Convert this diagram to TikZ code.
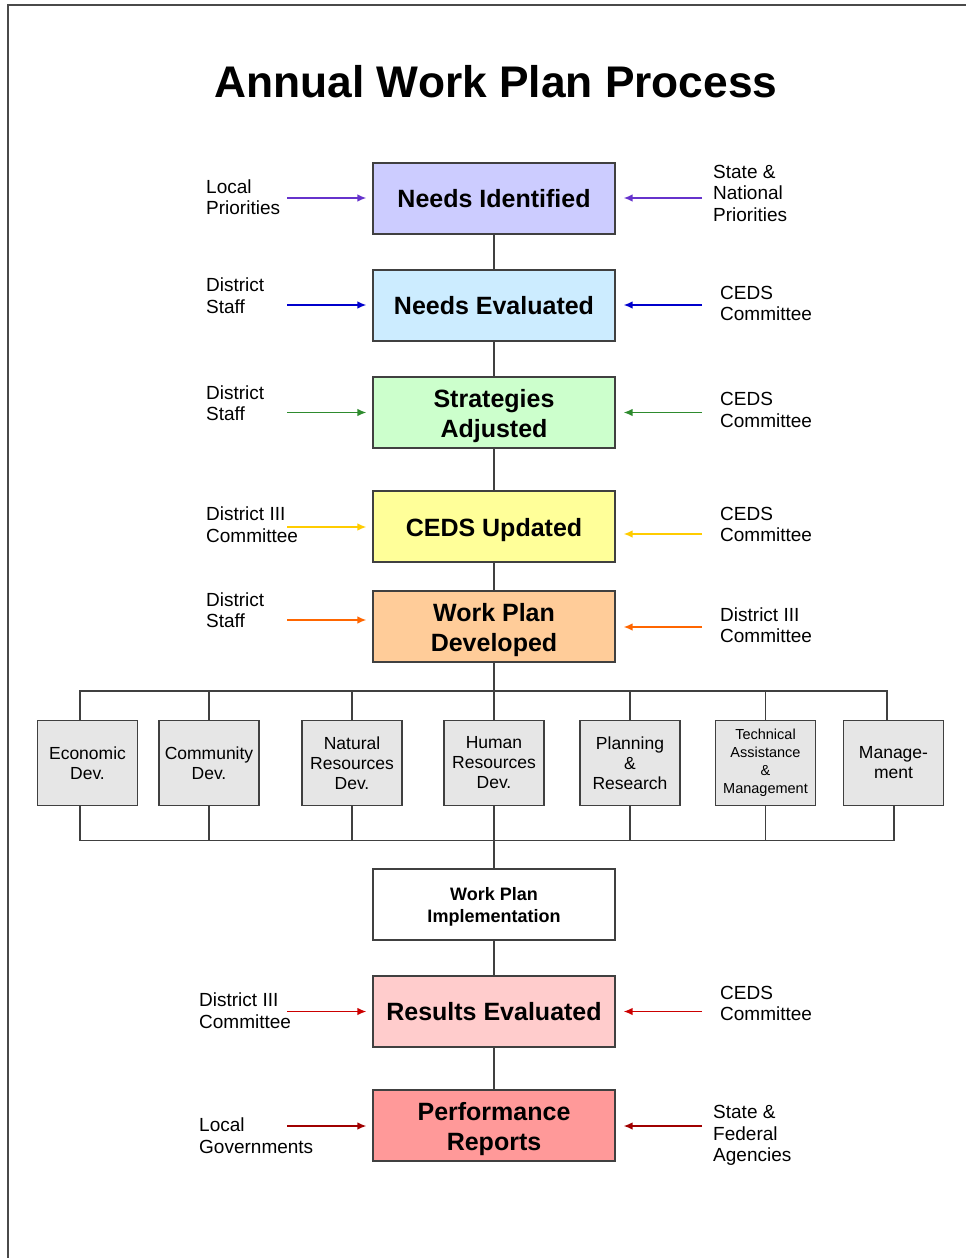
\documentclass[tikz,border=0pt]{standalone}
\usepackage{fontspec}
\setmainfont{Liberation Sans}
\usetikzlibrary{arrows.meta}

\definecolor{boxline}{HTML}{404040}
\definecolor{framecol}{HTML}{4A4A4A}
\definecolor{unitfill}{HTML}{E6E6E6}
% stage fills
\definecolor{fillA}{HTML}{CCCCFF}
\definecolor{fillB}{HTML}{CCECFF}
\definecolor{fillC}{HTML}{CCFFCC}
\definecolor{fillD}{HTML}{FFFF99}
\definecolor{fillE}{HTML}{FFCC99}
\definecolor{fillF}{HTML}{FFCCCC}
\definecolor{fillG}{HTML}{FF9999}
% input arrow colours
\definecolor{arrA}{HTML}{6633CC}
\definecolor{arrB}{HTML}{0000CC}
\definecolor{arrC}{HTML}{2E8B2E}
\definecolor{arrD}{HTML}{FFCC00}
\definecolor{arrE}{HTML}{FF6600}
\definecolor{arrF}{HTML}{CC0000}
\definecolor{arrG}{HTML}{A00000}

% invisible strut that lowers the first line of a multi-line label
\newcommand{\topstrut}[1]{\rule{0pt}{#1}}

\begin{document}
\begin{tikzpicture}[x=1pt,y=-1pt,
  mainbox/.style={draw=boxline, line width=1.3pt, minimum width=242pt,
    minimum height=71pt, inner sep=0pt, align=center,
    font=\fontsize{25}{30}\selectfont\bfseries,
    execute at begin node={\rule{0pt}{22pt}},
    execute at end node={\rule[-4pt]{0pt}{4pt}}},
  lowtext/.style={execute at begin node={\rule{0pt}{26pt}}},
  implbox/.style={draw=boxline, fill=white, line width=1.3pt, minimum width=242pt,
    minimum height=71pt, inner sep=0pt, align=center,
    font=\fontsize{18}{22}\selectfont\bfseries},
  unitbox/.style={draw=boxline, fill=unitfill, line width=1.3pt,
    minimum width=100pt, minimum height=85pt, inner sep=0pt, align=center,
    font=\fontsize{17.5}{20}\selectfont},
  sidelabel/.style={anchor=west, align=left, inner sep=0pt,
    font=\fontsize{19}{21.5}\selectfont},
  feed/.style={line width=1.4pt, -{Latex[length=9pt,width=7.5pt]}},
  feedL/.style={feed, shorten >=6pt},
  feedR/.style={feed, shorten >=8pt},
  link/.style={draw=boxline, line width=1.3pt}
]
\useasboundingbox (0,0) rectangle (966,1258);

% page frame
\draw[framecol, line width=1.8pt] (8,1258) -- (8,5) -- (966,5);

% title
\node[anchor=base, inner sep=0pt, font=\fontsize{44.3}{50}\selectfont\bfseries]
  (title) at (496,97) {Annual Work Plan Process};

% process stages
\node[mainbox, fill=fillA] (ni) at (494,198.5) {Needs Identified};
\node[mainbox, fill=fillB] (ne) at (494,305.5) {Needs Evaluated};
\node[mainbox, fill=fillC] (sa) at (494,412.5) {\topstrut{25pt}Strategies\\Adjusted};
\node[mainbox, lowtext, fill=fillD] (cu) at (494,526.5) {CEDS Updated};
\node[mainbox, fill=fillE] (wp) at (494,626.5) {\topstrut{25pt}Work Plan\\Developed};
\node[implbox] (im) at (494,904.5) {\topstrut{17pt}Work Plan\\Implementation};
\node[mainbox, fill=fillF] (re) at (494,1011.5) {Results Evaluated};
\node[mainbox, fill=fillG] (pr) at (494,1125.5) {\topstrut{25pt}Performance\\Reports};

% program areas
\node[unitbox] (eco)  at (87.5,763)  {Economic\\Dev.};
\node[unitbox] (com)  at (209,763)   {Community\\Dev.};
\node[unitbox] (nat)  at (352,763)   {Natural\\Resources\\Dev.};
\node[unitbox] (hum)  at (494,763)   {Human\\Resources\\Dev.};
\node[unitbox] (pla)  at (630,763)   {Planning\\\&\\Research};
\node[unitbox, font=\fontsize{14.5}{18}\selectfont] (tec) at (765.5,763)
  {Technical\\Assistance\\\&\\Management};
\node[unitbox] (mgmt) at (893.5,763) {Manage-\\ment};

% input labels, left side
\node[sidelabel] (l1) at (206,197)    {Local\\Priorities};
\node[sidelabel] (l2) at (206,295.5)  {District\\Staff};
\node[sidelabel] (l3) at (206,403)    {District\\Staff};
\node[sidelabel] (l4) at (206,524.5)  {District III\\Committee};
\node[sidelabel] (l5) at (206,610)    {District\\Staff};
\node[sidelabel] (l6) at (199,1010.5) {District III\\Committee};
\node[sidelabel] (l7) at (199,1135.5) {Local\\Governments};

% input labels, right side
\node[sidelabel] (r1) at (713,193)    {State \&\\National\\Priorities};
\node[sidelabel] (r2) at (720,303.5)  {CEDS\\Committee};
\node[sidelabel] (r3) at (720,410)    {CEDS\\Committee};
\node[sidelabel] (r4) at (720,524.5)  {CEDS\\Committee};
\node[sidelabel] (r5) at (720,625)    {District III\\Committee};
\node[sidelabel] (r6) at (720,1003.5) {CEDS\\Committee};
\node[sidelabel] (r7) at (713,1135.5) {State \&\\Federal\\Agencies};

% arrow tails
\coordinate (la1) at (287,198);   \coordinate (ra1) at (702,198);
\coordinate (la2) at (287,305);   \coordinate (ra2) at (702,305);
\coordinate (la3) at (287,412.5); \coordinate (ra3) at (702,412.5);
\coordinate (la4) at (287,527);   \coordinate (ra4) at (702,534);
\coordinate (la5) at (287,620);   \coordinate (ra5) at (702,627);
\coordinate (la6) at (287,1011.5);\coordinate (ra6) at (702,1011.5);
\coordinate (la7) at (287,1126);  \coordinate (ra7) at (702,1126);

% input arrows
\draw[feedL, arrA] (la1) -- (ni.west |- la1);
\draw[feedR, arrA] (ra1) -- (ni.east |- ra1);
\draw[feedL, arrB] (la2) -- (ne.west |- la2);
\draw[feedR, arrB] (ra2) -- (ne.east |- ra2);
\draw[feedL, arrC] (la3) -- (sa.west |- la3);
\draw[feedR, arrC] (ra3) -- (sa.east |- ra3);
\draw[feedL, arrD] (la4) -- (cu.west |- la4);
\draw[feedR, arrD] (ra4) -- (cu.east |- ra4);
\draw[feedL, arrE] (la5) -- (wp.west |- la5);
\draw[feedR, arrE] (ra5) -- (wp.east |- ra5);
\draw[feedL, arrF] (la6) -- (re.west |- la6);
\draw[feedR, arrF] (ra6) -- (re.east |- ra6);
\draw[feedL, arrG] (la7) -- (pr.west |- la7);
\draw[feedR, arrG] (ra7) -- (pr.east |- ra7);

% main flow
\draw[link] (ni) -- (ne);
\draw[link] (ne) -- (sa);
\draw[link] (sa) -- (cu);
\draw[link] (cu) -- (wp);
\draw[link] (wp) -- (hum);
\draw[link] (hum) -- (im);
\draw[link] (im) -- (re);
\draw[link] (re) -- (pr);

% distribution buses
\coordinate (busT) at (494,691);
\coordinate (busB) at (494,840.5);
\draw[link] ([xshift=-7.5pt]eco.north) |- (busT) -| ([xshift=-6.5pt]mgmt.north);
\draw[link] ([xshift=-7.5pt]eco.south) |- (busB) -| ([xshift=0.5pt]mgmt.south);
\foreach \u in {com,nat,pla,tec}{
  \draw[link] (\u.north) -- (\u.north |- busT);
  \draw[link] (\u.south) -- (\u.south |- busB);
}
\end{tikzpicture}
\end{document}
